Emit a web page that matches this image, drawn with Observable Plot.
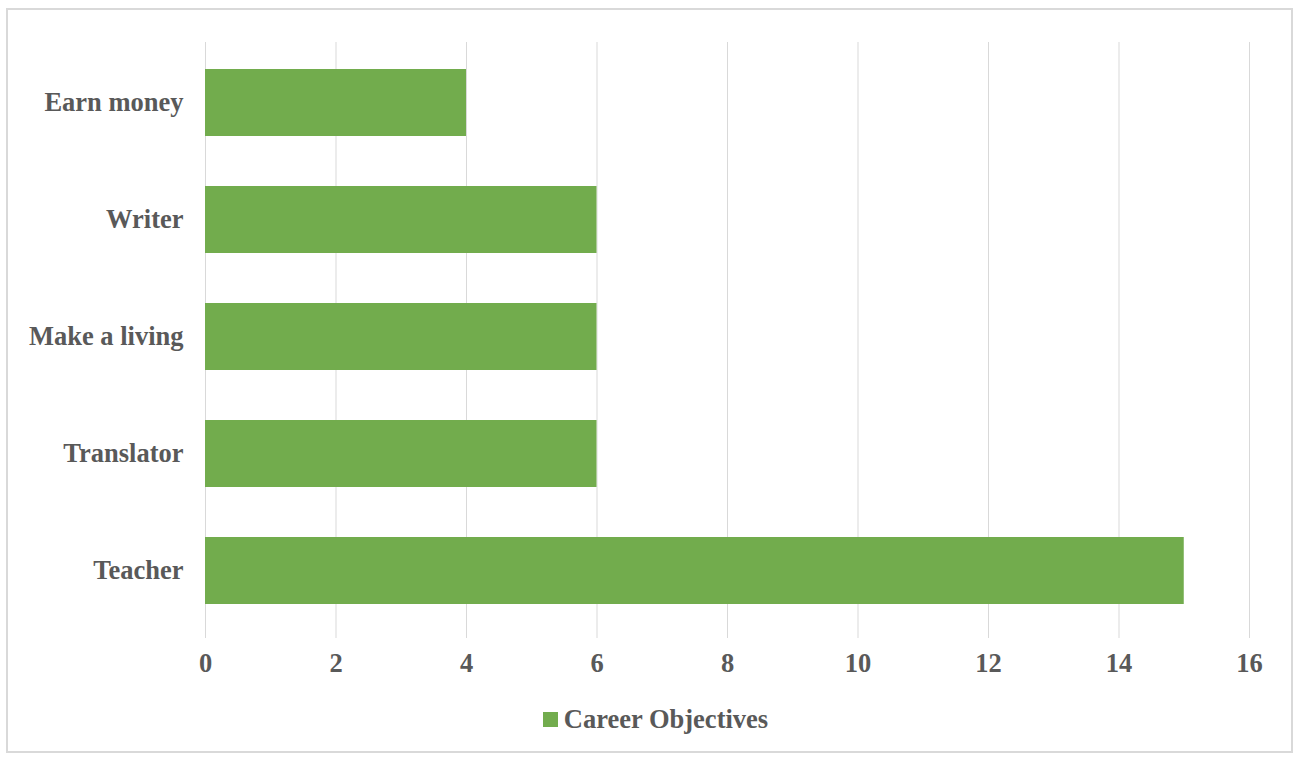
<!DOCTYPE html>
<html>
<head>
<meta charset="utf-8">
<script src="https://cdn.jsdelivr.net/npm/d3@7"></script>
<script src="https://cdn.jsdelivr.net/npm/@observablehq/plot@0.6"></script>
<style>
  html, body { margin: 0; padding: 0; background: #fff; }
  #wrap { position: relative; width: 1295px; height: 758px; overflow: hidden; }
  #frame { position: absolute; left: 6px; top: 8px; width: 1283px; height: 741px; border: 2px solid #d9d9d9; box-sizing: content-box; }
  #chart { position: absolute; left: 0; top: 0; }
  #legend { position: absolute; left: 0; width: 1311px; top: 704px; text-align: center;
    font: bold 26.5px "Liberation Serif", "Times New Roman", serif; color: #595959; }
  #legend .sw { display: inline-block; width: 15px; height: 15px; margin-right: 6px; vertical-align: 1px; }
</style>
</head>
<body>
<div id="wrap">
  <div id="frame"></div>
  <div id="chart"></div>
  <div id="legend"></div>
</div>
<script>
const categories = ["Earn money", "Writer", "Make a living", "Translator", "Teacher"];
const values = [4, 6, 6, 6, 15];
const seriesName = "Career Objectives";
const xTicks = [0, 2, 4, 6, 8, 10, 12, 14, 16];
const barColor = "#72ac4d";
const textColor = "#595959";

const data = categories.map((c, i) => ({category: c, value: values[i]}));

const chart = Plot.plot({
  width: 1295,
  height: 690,
  marginLeft: 205,
  marginRight: 46,
  marginTop: 42,
  marginBottom: 59,
  style: {fontFamily: '"Liberation Serif", "Times New Roman", serif', fontSize: "26.5px", fontWeight: "bold", color: textColor, background: "transparent"},
  x: {domain: [0, 16], ticks: xTicks, tickSize: 0, tickPadding: 22, label: null},
  y: {domain: categories, paddingInner: 0.43, paddingOuter: 0.215, tickSize: 0, tickPadding: 22, label: null},
  marks: [
    Plot.ruleX(xTicks, {x: d => d, stroke: "#d9d9d9", strokeWidth: 1, insetBottom: -7}),
    Plot.barX(data, {y: "category", x: "value", fill: barColor}),
    Plot.axisX({ticks: xTicks, tickSize: 0, tickPadding: 22, fill: textColor, fontSize: 26.5, fontWeight: "bold", label: null}),
    Plot.axisY({tickSize: 0, tickPadding: 22, fill: textColor, fontSize: 26.5, fontWeight: "bold", label: null})
  ]
});
document.getElementById("chart").appendChild(chart);

const lg = document.getElementById("legend");
const sw = document.createElement("span");
sw.className = "sw";
sw.style.background = barColor;
lg.appendChild(sw);
lg.appendChild(document.createTextNode(seriesName));
</script>
</body>
</html>
